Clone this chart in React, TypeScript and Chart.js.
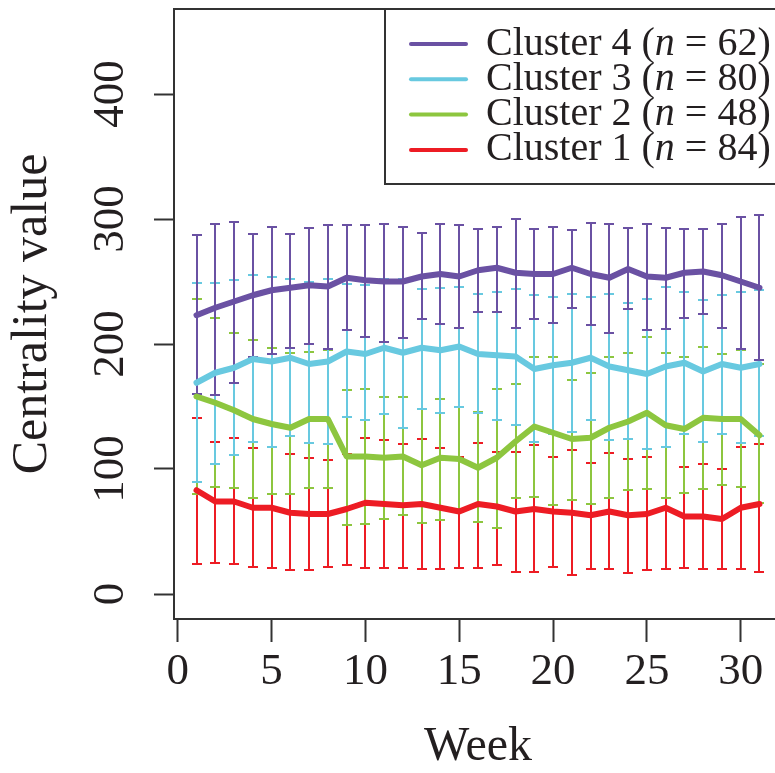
import { useEffect, useRef } from "react";
import { Chart, registerables } from "chart.js";

Chart.register(...registerables);

// ---- data ----
const weeks = [1, 2, 3, 4, 5, 6, 7, 8, 9, 10, 11, 12, 13, 14, 15, 16, 17, 18, 19, 20, 21, 22, 23, 24, 25, 26, 27, 28, 29, 30, 31];

const cluster4Mean = [223, 229, 234, 239, 243, 245, 247, 246, 253, 251, 250, 250, 254, 256, 254, 259, 261, 257, 256, 256, 261, 256, 253, 260, 254, 253, 257, 258, 255, 250, 245];
const cluster4Upper = [287, 296, 298, 288, 294, 288, 293, 295, 295, 295, 296, 294, 289, 296, 295, 292, 294, 300, 292, 294, 291, 297, 296, 293, 296, 293, 292, 292, 296, 302, 303];
const cluster4Lower = [160, 159, 169, 190, 192, 197, 200, 196, 211, 206, 202, 205, 220, 216, 213, 226, 226, 213, 220, 217, 229, 215, 209, 228, 211, 212, 221, 224, 213, 196, 187];

const cluster3Mean = [169, 177, 181, 188, 186, 189, 184, 186, 194, 192, 197, 193, 197, 195, 198, 192, 191, 190, 180, 183, 185, 189, 182, 179, 176, 182, 185, 178, 184, 181, 184];
const cluster3Upper = [249, 249, 251, 255, 254, 252, 250, 252, 248, 247, 252, 252, 244, 245, 246, 240, 242, 244, 239, 238, 240, 238, 240, 233, 236, 246, 242, 235, 239, 242, 243];
const cluster3Lower = [90, 104, 111, 122, 118, 126, 121, 120, 142, 139, 144, 133, 148, 145, 150, 145, 139, 135, 122, 128, 130, 139, 123, 124, 116, 118, 128, 122, 128, 121, 126];

const cluster2Mean = [158, 153, 147, 140, 136, 133, 140, 140, 110, 110, 109, 110, 103, 109, 108, 101, 109, 122, 134, 129, 124, 125, 133, 138, 145, 135, 132, 141, 140, 140, 127];
const cluster2Upper = [236, 221, 209, 203, 197, 193, 194, 195, 163, 164, 158, 158, 148, 156, 150, 146, 164, 168, 190, 190, 171, 177, 190, 193, 206, 193, 190, 198, 192, 195, 184];
const cluster2Lower = [80, 86, 85, 77, 80, 80, 85, 85, 55, 56, 60, 63, 57, 59, 66, 58, 53, 77, 78, 71, 75, 72, 77, 83, 84, 77, 81, 84, 87, 86, 73];

const cluster1Mean = [83, 74, 74, 69, 69, 65, 64, 64, 68, 73, 72, 71, 72, 69, 66, 72, 70, 66, 68, 66, 65, 63, 66, 63, 64, 69, 62, 62, 60, 69, 72];
const cluster1Upper = [141, 122, 125, 117, 118, 112, 109, 107, 112, 125, 123, 120, 124, 117, 110, 121, 114, 114, 119, 110, 115, 105, 113, 108, 110, 118, 102, 104, 100, 118, 120];
const cluster1Lower = [24, 25, 24, 22, 21, 19, 19, 22, 23, 21, 21, 21, 20, 20, 21, 21, 23, 18, 18, 22, 15, 20, 20, 17, 19, 20, 21, 20, 20, 20, 18];

const clusterNames = ["Cluster 1", "Cluster 2", "Cluster 3", "Cluster 4"];
const clusterSizes = [84, 48, 80, 62];

const xTickValues = [0, 5, 10, 15, 20, 25, 30];
const yTickValues = [0, 100, 200, 300, 400];

// ---- styles ----
const COLORS = ["#ed1c24", "#8dc63f", "#68c9e0", "#6a51a3"];
const TEXT = "#231f20";
const AXIS = "#333333";
const SERIF = "'Liberation Serif', 'Times New Roman', serif";

const series = [
  { name: clusterNames[0], n: clusterSizes[0], mean: cluster1Mean, upper: cluster1Upper, lower: cluster1Lower, color: COLORS[0] },
  { name: clusterNames[1], n: clusterSizes[1], mean: cluster2Mean, upper: cluster2Upper, lower: cluster2Lower, color: COLORS[1] },
  { name: clusterNames[2], n: clusterSizes[2], mean: cluster3Mean, upper: cluster3Upper, lower: cluster3Lower, color: COLORS[2] },
  { name: clusterNames[3], n: clusterSizes[3], mean: cluster4Mean, upper: cluster4Upper, lower: cluster4Lower, color: COLORS[3] },
];

const errorBarPlugin = {
  id: "errorBars",
  beforeDatasetsDraw(chart: any) {
    const { ctx, chartArea, scales } = chart;
    const xs = scales.x;
    const ys = scales.y;
    ctx.save();
    ctx.beginPath();
    ctx.rect(chartArea.left, chartArea.top, chartArea.right - chartArea.left, chartArea.bottom - chartArea.top);
    ctx.clip();
    ctx.lineCap = "butt";
    series.forEach((s) => {
      ctx.strokeStyle = s.color;
      ctx.lineWidth = 2;
      weeks.forEach((w, i) => {
        const px = Math.round(xs.getPixelForValue(w));
        const pl = Math.round(ys.getPixelForValue(s.lower[i]));
        const pu = Math.round(ys.getPixelForValue(s.upper[i]));
        ctx.beginPath();
        ctx.moveTo(px, pl);
        ctx.lineTo(px, pu);
        ctx.moveTo(px - 5, pl);
        ctx.lineTo(px + 5, pl);
        ctx.moveTo(px - 5, pu);
        ctx.lineTo(px + 5, pu);
        ctx.stroke();
      });
    });
    ctx.restore();
  },
};

const frameLegendPlugin = {
  id: "frameLegend",
  afterDraw(chart: any) {
    const { ctx, chartArea } = chart;
    const L = chartArea.left;
    const T = chartArea.top;
    const R = chartArea.right;
    const B = chartArea.bottom;
    ctx.save();
    ctx.strokeStyle = AXIS;
    ctx.lineWidth = 2;
    ctx.lineCap = "square";
    // plot frame (right side lies outside the visible page)
    ctx.beginPath();
    ctx.moveTo(R, T);
    ctx.lineTo(L, T);
    ctx.lineTo(L, B);
    ctx.lineTo(R, B);
    ctx.stroke();

    // legend box
    const bx = L + 211;
    const by = T;
    const bh = 175;
    ctx.fillStyle = "#ffffff";
    ctx.fillRect(bx, by, R - bx, bh);
    ctx.beginPath();
    ctx.moveTo(R, by);
    ctx.lineTo(bx, by);
    ctx.lineTo(bx, by + bh);
    ctx.lineTo(R, by + bh);
    ctx.stroke();

    const order = [3, 2, 1, 0];
    const fontSize = 40;
    order.forEach((idx, row) => {
      const s = series[idx];
      const cy = by + 35 + row * 35.3;
      ctx.strokeStyle = s.color;
      ctx.lineWidth = 4;
      ctx.lineCap = "round";
      ctx.beginPath();
      ctx.moveTo(bx + 26, cy);
      ctx.lineTo(bx + 81, cy);
      ctx.stroke();

      ctx.fillStyle = TEXT;
      ctx.textBaseline = "middle";
      ctx.textAlign = "left";
      let tx = bx + 101;
      const parts: [string, boolean][] = [
        [s.name + " (", false],
        ["n", true],
        [" = " + s.n + ")", false],
      ];
      parts.forEach(([t, it]) => {
        ctx.font = (it ? "italic " : "") + fontSize + "px " + SERIF;
        ctx.fillText(t, tx, cy);
        tx += ctx.measureText(t).width;
      });
    });
    ctx.restore();
  },
};

export default function App() {
  const canvasRef = useRef<HTMLCanvasElement | null>(null);

  useEffect(() => {
    const canvas = canvasRef.current;
    if (!canvas) return;
    const chart = new Chart(canvas, {
      type: "line",
      data: {
        datasets: series.map((s) => ({
          label: s.name,
          data: weeks.map((w, i) => ({ x: w, y: s.mean[i] })),
          borderColor: s.color,
          backgroundColor: s.color,
          borderWidth: 6,
          pointRadius: 0,
          tension: 0,
          borderJoinStyle: "round" as const,
          borderCapStyle: "round" as const,
        })),
      },
      options: {
        responsive: false,
        animation: false,
        devicePixelRatio: 1,
        layout: { padding: { left: 0, top: 9, right: 18, bottom: 0 } },
        plugins: {
          legend: { display: false },
          tooltip: { enabled: false },
        },
        scales: {
          x: {
            type: "linear",
            min: -0.2,
            max: 32.2,
            afterBuildTicks: (scale: any) => {
              scale.ticks = xTickValues.map((v) => ({ value: v }));
            },
            afterFit: (scale: any) => {
              scale.height = 154;
              scale.paddingLeft = 0;
              scale.paddingRight = 0;
            },
            grid: {
              drawOnChartArea: false,
              drawTicks: true,
              tickLength: 23,
              tickWidth: 2,
              tickColor: AXIS,
            },
            border: { display: false },
            ticks: {
              autoSkip: false,
              maxRotation: 0,
              padding: 3,
              color: TEXT,
              font: { family: SERIF, size: 45 },
              callback: (v: any) => String(v),
            },
            title: {
              display: true,
              text: "Week",
              color: TEXT,
              font: { family: SERIF, size: 48, lineHeight: 1 },
              padding: { top: 0, bottom: 2 },
            },
          },
          y: {
            type: "linear",
            min: -20,
            max: 468,
            afterBuildTicks: (scale: any) => {
              scale.ticks = yTickValues.map((v) => ({ value: v }));
            },
            afterFit: (scale: any) => {
              scale.width = 174;
              scale.paddingTop = 0;
              scale.paddingBottom = 0;
            },
            grid: {
              drawOnChartArea: false,
              drawTicks: true,
              tickLength: 20,
              tickWidth: 2,
              tickColor: AXIS,
            },
            border: { display: false },
            ticks: {
              autoSkip: false,
              minRotation: 90,
              maxRotation: 90,
              crossAlign: "center",
              padding: 9,
              color: TEXT,
              font: { family: SERIF, size: 45 },
              callback: (v: any) => String(v),
            },
            title: {
              display: true,
              text: "Centrality value",
              color: TEXT,
              font: { family: SERIF, size: 50, lineHeight: 1.2 },
              padding: { top: 3, bottom: 0 },
            },
          },
        },
      },
      plugins: [errorBarPlugin, frameLegendPlugin],
    } as any);
    return () => chart.destroy();
  }, []);

  return (
    <div style={{ position: "fixed", left: 0, top: 0, width: 775, height: 773, overflow: "hidden", background: "#fff" }}>
      <canvas ref={canvasRef} width={800} height={773} style={{ display: "block", width: 800, height: 773 }} />
    </div>
  );
}
